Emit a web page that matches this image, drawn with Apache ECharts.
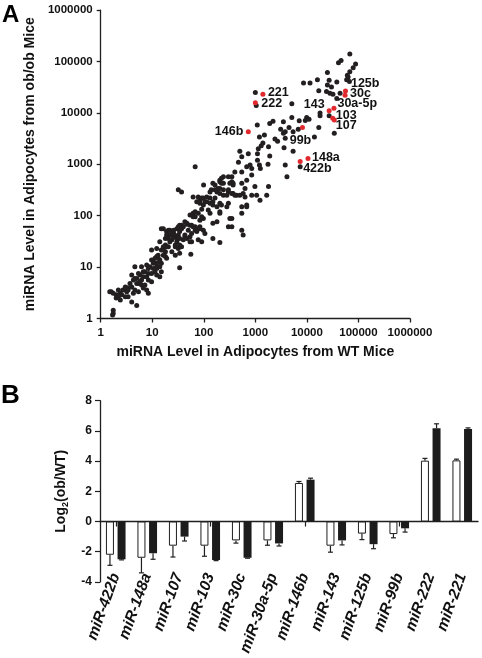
<!DOCTYPE html>
<html><head><meta charset="utf-8">
<script src="https://cdn.jsdelivr.net/npm/echarts@6/dist/echarts.min.js"></script>
<style>html,body{margin:0;padding:0;background:#fff}#c{width:482px;height:658px}</style>
</head><body><div id="c"></div>
<script>
// ---- Panel A data: [level in WT adipocytes, level in ob/ob adipocytes] ----
const levelsTop = [[68000,140000],[41000,95000],[46000,105000],[88000,89000],[79000,76000],[68000,63000],[61000,54000],[63000,50000],[25000,61000],[59000,44000],
 [67000,41000],[16000,44000],[27000,43000],[8600,38000],[11500,38000],[38000,40000],[25000,35000],[30000,32000],[17000,27000],[24000,26000],
 [28000,24000],[32000,23000],[44000,24000],[38000,19000],[1000,25000],[1040,14000],[5100,15000],[18000,10000],[18000,8800],[9900,8100],
 [11000,7500],[9300,7100],[27000,8800],[3500,6700],[7100,7000],[5100,8100],[2200,6900],[1900,6200],[1090,5800],[4500,5200],
 [3100,4800],[6800,4800],[17000,5200],[34000,4000],[14000,3400],[1500,3700],[1200,3400],[3800,4300],[3500,4000],[2400,3100],
 [2700,2800],[5400,4300],[1400,2600],[1300,2300],[1140,2000],[3600,2100],[1800,2200],[3800,3200]];
const levelsMid = [[5400,1800],[500,1800],[730,1600],[1100,1600],[1900,1450],[545,1400],[1100,1200],[470,1100],[680,900],[790,970],
 [850,830],[1200,970],[1250,830],[1760,1000],[3800,970],[7400,900],[4100,570],[68,900],[545,710],[400,710],
 [850,620],[350,570],[300,570],[240,570],[150,430],[165,395],[205,490],[220,430],[320,430],[370,395],
 [545,430],[680,490],[99,395],[140,320],[205,340],[240,320],[180,290],[205,270],[630,340],[980,370],
 [1800,370],[32,320],[37,290],[370,270],[435,250],[850,250],[1060,250],[630,230],[62,230],[78,230],
 [91,220],[114,230],[132,220],[165,220],[280,250],[300,290],[1660,250],[500,250],
 [205,460],[220,535],[240,430],[350,460],[370,430],[132,290],[165,320],[190,340],[240,250],[300,320],
 [350,270],[400,250],[580,270]];
const levelsLow = [[1230,200],[73,187],[84,174],[98,161],[105,187],[132,174],[150,161],[205,174],[300,174],[122,129],
 [205,120],[91,133],[545,150],[680,161],[62,111],[54,103],[68,95],[98,88],[84,82],[43,76],
 [47,68],[37,65],[180,76],[350,88],[58,65],[68,61],[545,52],[300,61],[350,61],[30,56],
 [26,52],[34,49],[98,52],[105,45],[580,42],[43,39],[40,34],[22,42],[26,38],[150,36],
 [30,31],[205,30],[545,111],[84,61],[73,56],[15,56],[20.5,52],[24,49],[32,61],[37,56],
 [50,52],[58,45],[73,49],[28,39],[34,36],[20.5,36],[24,34],[54,31],[78,34],[14,31],
 [19,42],[18,36],
 [98,220],[84,200],[114,187],[150,187],[180,150],[220,161],[280,150],[680,150],[68,120],[78,111],
 [62,95],[91,95],[132,111],[205,111],[320,88],[47,71],[54,65],[34,65],[40,61],[62,61],
 [68,52],[84,56],[150,71],[16.4,56],[19,49],[22,52],[26,45],[32,42],[30,36],[43,42],
 [47,36],[54,39],[22,31],[58,31],[91,31]];
const levelsBottom = [[18,27],[20.5,25],[28,27],[32,23],[37,25],[9.7,21.5],[15,21.5],[18,20],[24,20],[28,17],
 [34,18.5],[56,17.7],[18,16],[19,14.8],[13,14.8],[14,13.7],[10.5,12.7],[12.2,11.9],[15,11.9],[9,10.2],
 [10.5,9.4],[11.3,8.1],[4.6,10.2],[6.2,10.2],[34,9.7],[7.2,8.1],[8.4,7.5],[12.2,7],[14,6.5],[5.8,7],
 [6.7,6.5],[5,6],[4.3,5.6],[8.4,5.6],[9.7,5.2],[5.4,4.8],[6.2,4.5],[7.2,4.5],[3.7,4.8],[4,4.1],
 [3.2,3.9],[3.4,3.6],[2.7,3.6],[4.6,3.6],[5.4,3.3],[7.8,3.6],[8.4,3.1],[2.4,3.1],[2.55,2.9],[2,2.9],
 [2.2,2.65],[1.6,3.3],[1.75,3.1],[3,2.65],[3.4,2.65],[4,2.1],[5,1.8],[1.75,1.45],[1.75,1.25],[1.7,1.17],
 [12.2,23],[16.4,17],[12.2,16],[9.7,13.7],[7.8,11],[12.2,10.2],[15,8.1],[5.4,7.5],[4,7],[5,4.8],
 [5.8,5.2],[6.7,3.9],[4.3,3.1],[3.2,3.3],[2,2.5],[2.4,2.3],[1.5,3.3],
 [4.6,6.0],[6.7,8.1],[8.4,9.4],[10.5,11.9],[11.3,14.8],[13,17],[16.4,21.5],[19,25],[3.0,4.1],[2.2,3.6],
 [3.4,3.9],[6.2,5.6],[7.8,6.5],[9.7,7.5],[12.2,9.4],[14,10.2],[34,27],[28,25],[16.4,25]];

const highlightNames = ['221','222','146b','99b','148a','422b','143','30a-5p','103','107','125b','30c'];
const highlightWT    = [1400,1000,730,8200,10500,7400,27000,33500,31700,34000,56000,55000];
const highlightOb    = [23000,15800,4300,5200,1300,1140,11000,12300,7900,7300,26700,22000];

// ---- Panel B data ----
const mirCategories = ['miR-422b','miR-148a','miR-107','miR-103','miR-30c','miR-30a-5p','miR-146b','miR-143','miR-125b','miR-99b','miR-222','miR-221'];
const openBarValues  = [-2.2,-2.4,-1.6,-1.6,-1.25,-1.25,2.55,-1.6,-0.8,-0.83,4.03,4.05];
const openBarErrors  = [0.7,1.0,0.75,0.7,0.18,0.32,0.1,0.43,0.4,0.25,0.15,0.08];
const solidBarValues = [-2.5,-2.1,-1.0,-2.55,-2.4,-1.45,2.77,-1.25,-1.5,-0.45,6.17,6.12];
const solidBarErrors = [0.04,0.4,0.29,0.04,0.03,0.17,0.1,0.3,0.3,0.25,0.3,0.08];

// ---- styling ----
const FONT = "'Liberation Sans', Arial, Helvetica, sans-serif";
const INK = '#1f1f1f';
const RED = '#e0282d';
const BAR_W = 8, BAR_GAP = 0.45, CAP = 2.5;
const BAR_OFFSET = (BAR_W + BAR_W * BAR_GAP) / 2;
const labelPlacement = {
  '221': {align:'left', offset:[5,-1.5]},
  '222': {align:'left', offset:[6,1.3]},
  '146b': {align:'right', offset:[-5,0]},
  '99b': {align:'center', offset:[-2,13.5]},
  '148a': {align:'left', offset:[4,-1]},
  '422b': {align:'left', offset:[3,6.7]},
  '143': {align:'right', offset:[-4.5,-6.7]},
  '30a-5p': {align:'left', offset:[3.5,-4.3]},
  '103': {align:'left', offset:[3,-3]},
  '107': {align:'left', offset:[1.5,6]},
  '125b': {align:'left', offset:[5.5,-7.7]},
  '30c': {align:'left', offset:[5,-1.3]}
};

const blackPoints = [].concat(levelsTop, levelsMid, levelsLow, levelsBottom);
const redPoints = highlightNames.map((n,i)=>({
  name:n, value:[highlightWT[i], highlightOb[i]],
  label:{show:true, formatter:n, position:'inside', verticalAlign:'middle',
    align:labelPlacement[n].align, offset:labelPlacement[n].offset,
    color:'#111', fontFamily:FONT, fontWeight:'bold', fontSize:12.5}
}));

const logAxisCommon = {
  type:'log', logBase:10, min:1, max:1000000, splitNumber:6,
  axisLine:{show:true, onZero:false, lineStyle:{color:INK, width:1.3}},
  axisTick:{show:true, length:4, lineStyle:{color:INK, width:1.3}},
  minorTick:{show:false}, splitLine:{show:false},
  axisLabel:{color:'#111', fontFamily:FONT, fontWeight:'bold', fontSize:11.5, margin:8,
    formatter:v=>String(Math.round(v))},
  nameLocation:'middle',
  nameTextStyle:{color:'#111', fontFamily:FONT, fontWeight:'bold', fontSize:14}
};

function errorBars(vals, errs, side){
  return {
    type:'custom', xAxisIndex:1, yAxisIndex:1, z:5, silent:true,
    data: vals.map((v,i)=>[i, v, errs[i]]),
    renderItem(params, api){
      const i = api.value(0), v = api.value(1), e = api.value(2);
      const dir = v >= 0 ? 1 : -1;
      const a = api.coord([i, v]);
      const b = api.coord([i, v + dir*e]);
      const x = a[0] + side*BAR_OFFSET;
      const st = {stroke:INK, lineWidth:1.2};
      return {type:'group', children:[
        {type:'line', shape:{x1:x, y1:a[1], x2:x, y2:b[1]}, style:st},
        {type:'line', shape:{x1:x-CAP, y1:b[1], x2:x+CAP, y2:b[1]}, style:st}
      ]};
    }
  };
}

const chart = echarts.init(document.getElementById('c'), null, {renderer:'canvas'});
chart.setOption({
  animation:false,
  backgroundColor:'#fff',
  grid:[
    {left:100.7, top:10.1, width:309.3, height:308.4},
    {left:100, top:400.7, width:378, height:183.6}
  ],
  xAxis:[
    Object.assign({}, logAxisCommon, {gridIndex:0, name:'miRNA Level in Adipocytes from WT Mice', nameGap:27}),
    {type:'category', gridIndex:1, data:mirCategories,
      axisLine:{show:true, onZero:true, lineStyle:{color:INK, width:1.3}},
      axisTick:{show:true, alignWithLabel:true, length:5, lineStyle:{color:INK, width:1.2}},
      axisLabel:{show:false}, splitLine:{show:false}},
    {type:'category', gridIndex:1, position:'bottom', data:mirCategories,
      axisLine:{show:false, onZero:false}, axisTick:{show:false}, splitLine:{show:false},
      axisLabel:{show:true, interval:0, rotate:70, margin:-8, color:'#111', fontFamily:FONT,
        fontWeight:'bold', fontStyle:'italic', fontSize:15.5}}
  ],
  yAxis:[
    Object.assign({}, logAxisCommon, {gridIndex:0, name:'miRNA Level in Adipocytes from ob/ob Mice', nameGap:59}),
    {type:'value', gridIndex:1, min:-4, max:8, interval:2,
      axisLine:{show:true, lineStyle:{color:INK, width:1.3}},
      axisTick:{show:true, length:5, lineStyle:{color:INK, width:1.2}},
      splitLine:{show:false},
      axisLabel:{color:'#111', fontFamily:FONT, fontWeight:'bold', fontSize:12, margin:8},
      name:'{a|Log}{s|2}{a|(ob/WT)}', nameLocation:'middle', nameGap:24,
      nameTextStyle:{color:'#111', fontFamily:FONT, fontWeight:'bold', fontSize:14,
        rich:{a:{fontFamily:FONT, fontWeight:'bold', fontSize:14, color:'#111', lineHeight:18, verticalAlign:'middle'},
              s:{fontFamily:FONT, fontWeight:'bold', fontSize:9, color:'#111', lineHeight:18, verticalAlign:'bottom', padding:[6,0,0,0]}}}}
  ],
  series:[
    {type:'scatter', xAxisIndex:0, yAxisIndex:0, data:blackPoints, symbolSize:5,
      itemStyle:{color:'#231f20', opacity:1}, z:2},
    {type:'scatter', xAxisIndex:0, yAxisIndex:0, data:redPoints, symbolSize:5,
      itemStyle:{color:RED, opacity:1}, z:3},
    {type:'bar', xAxisIndex:1, yAxisIndex:1, data:openBarValues, barWidth:BAR_W, barGap:(BAR_GAP*100)+'%',
      itemStyle:{color:'#fff', borderColor:INK, borderWidth:1}, z:3},
    {type:'bar', xAxisIndex:1, yAxisIndex:1, data:solidBarValues, barWidth:BAR_W,
      itemStyle:{color:'#1c1c1c'}, z:3},
    errorBars(openBarValues, openBarErrors, -1),
    errorBars(solidBarValues, solidBarErrors, 1)
  ],
  graphic:[
    {type:'text', left:2, top:3, style:{text:'A', font:"bold 24px 'Liberation Sans', Arial, sans-serif", fill:'#000'}},
    {type:'text', left:1, top:383, style:{text:'B', font:"bold 26px 'Liberation Sans', Arial, sans-serif", fill:'#000'}}
  ]
});
</script></body></html>
